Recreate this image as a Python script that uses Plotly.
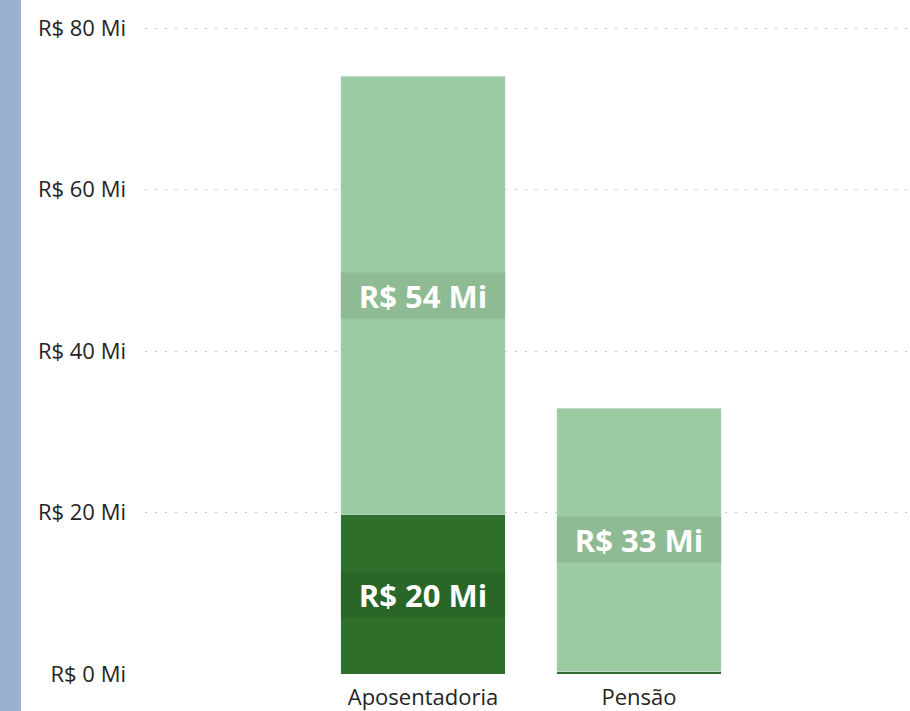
import plotly.graph_objects as go

categories = ["Aposentadoria", "Pensão"]
dark_values = [19.8, 0.3]
light_values = [54.2, 32.6]
dark_labels = ["R$ 20 Mi", ""]
light_labels = ["R$ 54 Mi", "R$ 33 Mi"]
tick_vals = [0, 20, 40, 60, 80]
tick_text = ["R$ 0 Mi", "R$ 20 Mi", "R$ 40 Mi", "R$ 60 Mi", "R$ 80 Mi"]

DARK = "#2D6F2B"
LIGHT = "#9BCBA0"

fig = go.Figure()
fig.add_bar(x=categories, y=dark_values, marker_color=DARK, width=0.76, hoverinfo="skip")
fig.add_bar(x=categories, y=light_values, marker_color=LIGHT, width=0.76, hoverinfo="skip")

lab_font = dict(family="Open Sans, Noto Sans, sans-serif", size=31, color="white")
for i, c in enumerate(categories):
    if dark_labels[i]:
        fig.add_annotation(x=c, y=dark_values[i] / 2, text="<b>%s</b>" % dark_labels[i],
                           showarrow=False, font=lab_font, bgcolor="rgba(0,0,0,0.08)",
                           width=160, height=41, borderpad=2)
    if light_labels[i]:
        fig.add_annotation(x=c, y=dark_values[i] + light_values[i] / 2, text="<b>%s</b>" % light_labels[i],
                           showarrow=False, font=lab_font, bgcolor="rgba(0,0,0,0.08)",
                           width=160, height=41, borderpad=2)

W, H = 910, 711
ml, mr, mt, mb = 145, 0, 0, 37
pw, ph = W - ml - mr, H - mt - mb
fig.add_shape(type="rect", xref="paper", yref="paper",
              x0=-ml / pw, x1=-(ml - 21) / pw, y0=-mb / ph, y1=1,
              fillcolor="#9AB1D2", line_width=0, layer="below")

fig.update_layout(
    width=W, height=H, barmode="stack", showlegend=False,
    margin=dict(l=ml, r=mr, t=mt, b=mb),
    plot_bgcolor="white", paper_bgcolor="white",
    font=dict(family="Open Sans, Noto Sans, sans-serif", size=22, color="#252423"),
    xaxis=dict(range=[-1.287, 2.255], showgrid=False, zeroline=False, showline=False,
               ticks="", ticklabelstandoff=8, tickfont=dict(size=22, color="#252423")),
    yaxis=dict(range=[0, 83.47], tickvals=tick_vals, ticktext=tick_text,
               showgrid=True, gridcolor="#C8C8C8", griddash="2px,8px", gridwidth=1,
               zeroline=False, showline=False, ticks="", ticklabelstandoff=18,
               tickfont=dict(size=22, color="#252423")),
)
fig.write_html("out.html", config={"displayModeBar": False},
               post_script="document.body.style.margin='0';document.body.style.overflow='hidden';")
